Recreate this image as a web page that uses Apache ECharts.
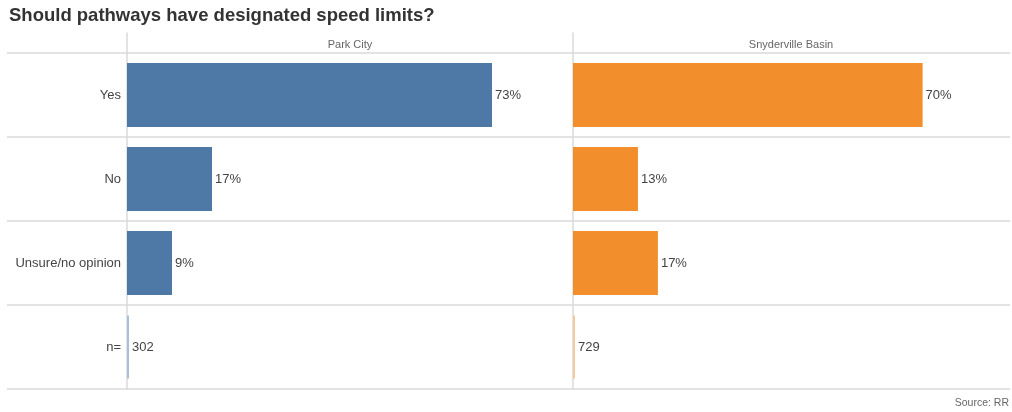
<!DOCTYPE html>
<html>
<head>
<meta charset="utf-8">
<script src="https://cdn.jsdelivr.net/npm/echarts@6/dist/echarts.min.js"></script>
<style>
  html, body { margin: 0; padding: 0; background: #fff; }
  #chart { width: 1012px; height: 412px; }
</style>
</head>
<body>
<div id="chart"></div>
<script>
// Survey answers, percent of respondents per area
const categories = ['Yes', 'No', 'Unsure/no opinion', 'n='];
const panels = ['Park City', 'Snyderville Basin'];
const parkCity = [73, 17, 9];
const snyderville = [70, 13, 17];
const sampleSizes = [302, 729];

const colors = ['#4E79A7', '#F28E2B'];
const lightColors = ['#A9BFDA', '#F7C99A'];
const gridColor = '#DADADA';
const textColor = '#444';
const font = 'Liberation Sans, Arial, sans-serif';

const chart = echarts.init(document.getElementById('chart'));

const panelGrids = [
  { left: 127, width: 446, top: 53, bottom: 23, max: 89.2 },
  { left: 573, right: 2, top: 53, bottom: 23, max: 87.5 }
];

const grids = [];
const xAxes = [];
const yAxes = [];
const series = [];

// Row separators spanning the full table width
grids.push({ left: 7, right: 2, top: 53, bottom: 23 });
xAxes.push({ gridIndex: 0, type: 'value', show: false });
yAxes.push({
  gridIndex: 0, type: 'category', data: categories, inverse: true,
  axisLine: { show: false }, axisTick: { show: false }, axisLabel: { show: false },
  splitLine: { show: true, lineStyle: { color: gridColor, width: 1.5 } }
});

const values = [parkCity, snyderville];

panelGrids.forEach((p, i) => {
  // header strip above each panel, carries the panel's left rule upward
  grids.push({ left: p.left, width: p.width, right: p.right, top: 33, height: 20 });
  xAxes.push({ gridIndex: grids.length - 1, type: 'value', show: false });
  yAxes.push({
    gridIndex: grids.length - 1, type: 'category', data: [panels[i]],
    axisLine: { show: true, lineStyle: { color: gridColor, width: 1.5 } },
    axisTick: { show: false }, axisLabel: { show: false }, splitLine: { show: false }
  });

  // panel body
  grids.push({ left: p.left, width: p.width, right: p.right, top: p.top, bottom: p.bottom });
  const gi = grids.length - 1;
  xAxes.push({ gridIndex: gi, type: 'value', min: 0, max: p.max, show: false });
  yAxes.push({
    gridIndex: gi, type: 'category', data: categories, inverse: true,
    axisLine: { show: true, lineStyle: { color: gridColor, width: 1.5 } },
    axisTick: { show: false },
    axisLabel: {
      show: i === 0, color: textColor, fontSize: 13, fontFamily: font, margin: 6
    },
    splitLine: { show: false }
  });

  series.push({
    type: 'bar',
    xAxisIndex: gi, yAxisIndex: gi,
    data: values[i].concat(['-']),
    barWidth: '76%',
    itemStyle: { color: colors[i] },
    label: {
      show: true, position: 'right', distance: 3,
      formatter: d => d.value + '%',
      color: textColor, fontSize: 13, fontFamily: font
    },
    silent: true,
    animation: false
  });

  // sample size row: a thin rule at zero with the count beside it
  series.push({
    type: 'scatter',
    xAxisIndex: gi, yAxisIndex: gi,
    data: [[0, 3]],
    symbol: 'rect',
    symbolSize: [2, 63],
    symbolOffset: [1, 0],
    itemStyle: { color: lightColors[i], opacity: 1 },
    label: {
      show: true, position: 'right', distance: 3,
      formatter: () => String(sampleSizes[i]),
      color: textColor, fontSize: 13, fontFamily: font, opacity: 1
    },
    silent: true,
    animation: false
  });
});

chart.setOption({
  animation: false,
  backgroundColor: '#fff',
  title: [
    {
      text: 'Should pathways have designated speed limits?',
      left: 9, top: 6, padding: 0,
      textStyle: { color: '#333', fontSize: 18.5, fontWeight: 'bold', fontFamily: font }
    },
    {
      text: panels[0], left: 350, top: 39, padding: 0, textAlign: 'center',
      textStyle: { color: '#666', fontSize: 11, fontWeight: 'normal', fontFamily: font }
    },
    {
      text: panels[1], left: 791, top: 39, padding: 0, textAlign: 'center',
      textStyle: { color: '#666', fontSize: 11, fontWeight: 'normal', fontFamily: font }
    },
    {
      text: 'Source: RR', right: 3, top: 398, padding: 0,
      textStyle: { color: '#666', fontSize: 10.5, fontWeight: 'normal', fontFamily: font }
    }
  ],
  grid: grids,
  xAxis: xAxes,
  yAxis: yAxes,
  series: series
});
</script>
</body>
</html>
